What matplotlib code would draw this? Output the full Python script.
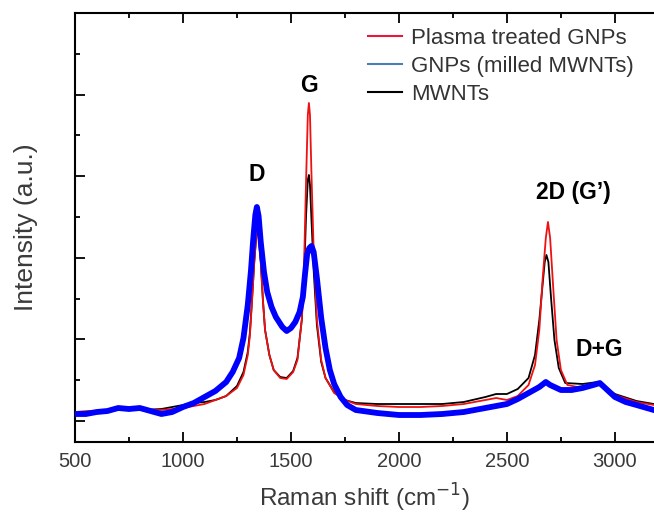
import matplotlib
matplotlib.use("Agg")
import matplotlib.pyplot as plt
from matplotlib.lines import Line2D
from matplotlib.ticker import MultipleLocator, FixedLocator, NullFormatter

plt.rcParams['font.family'] = ['Liberation Sans', 'DejaVu Sans']

# Raman shift (cm^-1) and intensity (a.u.)
plasma_x = [500, 600, 700, 800, 900, 1000, 1100, 1150, 1200, 1250, 1280, 1300, 1310, 1320, 1330,
            1340, 1345, 1350, 1360, 1370, 1380, 1400, 1420, 1450, 1480, 1510, 1530, 1550, 1560, 1570,
            1578, 1583, 1588, 1595, 1605, 1620, 1640, 1660, 1700, 1750, 1800, 1900, 2000, 2100, 2200,
            2300, 2400, 2450, 2500, 2550, 2600, 2630, 2650, 2665, 2680, 2690, 2700, 2715, 2730, 2750,
            2780, 2850, 2920, 3000, 3100, 3180]
plasma_y = [30, 31, 32, 32, 32, 34, 38, 42, 46, 54, 67, 87, 107, 142, 180,
            210, 215, 210, 182, 142, 112, 87, 72, 64, 63, 70, 82, 122, 172, 262,
            327, 339, 327, 267, 192, 122, 82, 64, 49, 42, 38, 36, 35, 35, 36,
            38, 42, 44, 42, 46, 57, 77, 112, 162, 204, 220, 204, 152, 102, 72,
            57, 54, 58, 47, 40, 37]

gnp_x = [500, 550, 600, 650, 700, 750, 800, 850, 900, 950, 1000, 1050, 1100, 1150, 1200, 1230,
         1260, 1280, 1300, 1315, 1325, 1335, 1342, 1350, 1360, 1375, 1390, 1410, 1430, 1460, 1480,
         1500, 1520, 1540, 1555, 1565, 1575, 1585, 1595, 1605, 1620, 1640, 1660, 1680, 1700, 1730,
         1760, 1800, 1900, 2000, 2100, 2200, 2300, 2400, 2500, 2550, 2600, 2650, 2680, 2700, 2750,
         2800, 2850, 2900, 2930, 2960, 3000, 3050, 3100, 3180]
gnp_y = [28, 28, 30, 31, 34, 33, 34, 31, 28, 30, 35, 39, 45, 51, 60, 70,
         84, 104, 137, 172, 202, 227, 235, 226, 200, 170, 150, 135, 125, 115, 111,
         114, 120, 130, 145, 168, 188, 194, 196, 190, 164, 124, 94, 72, 58, 45,
         37, 32, 29, 27, 27, 28, 30, 34, 38, 43, 49, 55, 60, 57, 52,
         52, 54, 57, 59, 53, 45, 40, 37, 32]

mwnt_x = [500, 600, 700, 800, 900, 1000, 1050, 1100, 1150, 1200, 1250, 1280, 1300, 1310, 1320,
          1330, 1340, 1345, 1350, 1360, 1370, 1380, 1400, 1420, 1450, 1480, 1510, 1530, 1550, 1560,
          1570, 1578, 1583, 1588, 1595, 1605, 1620, 1640, 1660, 1700, 1750, 1800, 1900, 2000, 2100,
          2200, 2300, 2400, 2450, 2500, 2550, 2600, 2630, 2650, 2665, 2675, 2683, 2692, 2705, 2720,
          2740, 2770, 2850, 2920, 3000, 3100, 3180]
mwnt_y = [30, 31, 32, 32, 33, 37, 39, 40, 42, 46, 56, 70, 90, 110, 144,
          180, 207, 212, 206, 180, 142, 112, 87, 72, 65, 64, 71, 84, 122, 162,
          227, 262, 267, 257, 222, 172, 117, 80, 64, 50, 42, 39, 38, 38, 38,
          38, 40, 45, 48, 48, 53, 64, 87, 122, 157, 180, 187, 180, 142, 102,
          74, 59, 58, 60, 48, 41, 38]

series_names = ['Plasma treated GNPs', 'GNPs (milled MWNTs)', 'MWNTs']
peak_labels = ['D', 'G', '2D (G\u2019)', 'D+G']
peak_pos = [(1343, 261), (1583, 350), (2806, 243), (2926, 86)]

fig = plt.figure(figsize=(6.54, 5.18), dpi=100)
ax = fig.add_axes([0.1147, 0.1467, 0.8853, 0.8283])

ax.plot(mwnt_x, mwnt_y, color='black', lw=1.3, zorder=2)
ax.plot(plasma_x, plasma_y, color='#ee1111', lw=1.3, zorder=3)
ax.plot(gnp_x, gnp_y, color='#0000ff', lw=4.2, zorder=4, solid_joinstyle='round')

ax.set_xlim(500, 3181)
ax.set_ylim(0, 429)

ax.xaxis.set_major_locator(MultipleLocator(500))
ax.xaxis.set_minor_locator(MultipleLocator(250))
ax.yaxis.set_major_locator(FixedLocator([21, 102.6, 184.2, 265.8, 347.4]))
ax.yaxis.set_minor_locator(FixedLocator([61.8, 143.4, 225, 306.6, 388.2]))
ax.yaxis.set_major_formatter(NullFormatter())

ax.tick_params(which='both', direction='in', top=True, right=False, width=1.3, colors='black',
               labelcolor='#3a3a3a', labelsize=14.5)
ax.tick_params(which='major', length=7)
ax.tick_params(which='minor', length=3.5)
ax.tick_params(axis='x', pad=7)
for s in ['left', 'bottom', 'top']:
    ax.spines[s].set_linewidth(1.5)
ax.spines['right'].set_visible(False)

ax.set_xlabel('Raman shift (cm$^{-1}$)', fontsize=17.5, color='#3a3a3a', labelpad=8)
ax.set_ylabel('Intensity (a.u.)', fontsize=19, color='#3a3a3a', labelpad=23)

for lab, (px, py) in zip(peak_labels, peak_pos):
    ax.text(px, py, lab, fontsize=16.5, fontweight='bold', ha='center', va='baseline', color='black')

handles = [Line2D([], [], color='#e8183c', lw=1.5),
           Line2D([], [], color='#4a7eb5', lw=1.5),
           Line2D([], [], color='black', lw=1.5)]
leg = ax.legend(handles, series_names, loc='upper left', bbox_to_anchor=(0.4905, 0.985),
                frameon=False, fontsize=16, handlelength=1.55, handletextpad=0.4,
                labelspacing=0.3, borderaxespad=0.0)
for t in leg.get_texts():
    t.set_color('#333333')

fig.savefig('out.png', dpi=100)
